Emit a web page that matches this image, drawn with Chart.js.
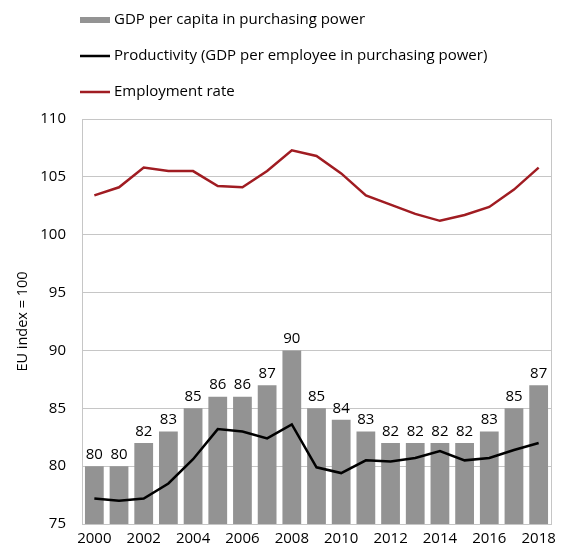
<!DOCTYPE html>
<html>
<head>
<meta charset="utf-8">
<script src="https://cdn.jsdelivr.net/npm/chart.js@4"></script>
<style>
  html, body { margin: 0; padding: 0; background: #fff; }
  #wrap { width: 566px; height: 550px; }
</style>
</head>
<body>
<div id="wrap"><canvas id="myChart" width="566" height="550"></canvas></div>
<script>
const years = ['2000', '2001', '2002', '2003', '2004', '2005', '2006', '2007', '2008', '2009',
    '2010', '2011', '2012', '2013', '2014', '2015', '2016', '2017', '2018'];
const gdpPerCapita = [80, 80, 82, 83, 85, 86, 86, 87, 90, 85, 84, 83, 82, 82, 82, 82, 83, 85, 87];
const productivity = [77.2, 77.0, 77.2, 78.5, 80.6, 83.2, 83.0, 82.4, 83.6, 79.9,
    79.4, 80.5, 80.4, 80.7, 81.3, 80.5, 80.7, 81.4, 82.0];
const employmentRate = [103.4, 104.1, 105.8, 105.5, 105.5, 104.2, 104.1, 105.5, 107.3, 106.8,
    105.3, 103.4, 102.6, 101.8, 101.2, 101.7, 102.4, 103.9, 105.8];
const yTicks = [75, 80, 85, 90, 95, 100, 105, 110];

const fontFamily = '"Open Sans", "Noto Sans", sans-serif';
const gridColor = '#c6c6c6';

// value labels above the bars
const barLabels = {
    id: 'barLabels',
    afterDatasetsDraw(chart) {
        const ctx = chart.ctx;
        const meta = chart.getDatasetMeta(2);
        ctx.save();
        ctx.font = '15px ' + fontFamily;
        ctx.fillStyle = '#000';
        ctx.textAlign = 'center';
        ctx.textBaseline = 'bottom';
        meta.data.forEach(function (bar, i) {
            ctx.fillText(gdpPerCapita[i], bar.x, bar.y - 4);
        });
        ctx.restore();
    }
};

// right border of the plot area
const frame = {
    id: 'frame',
    beforeDatasetsDraw(chart) {
        const a = chart.chartArea;
        const ctx = chart.ctx;
        ctx.save();
        ctx.strokeStyle = gridColor;
        ctx.lineWidth = 1;
        ctx.beginPath();
        ctx.moveTo(Math.round(a.right) + 0.5, a.top);
        ctx.lineTo(Math.round(a.right) + 0.5, a.bottom);
        ctx.stroke();
        ctx.restore();
    }
};

// legend stacked in one column
const stackedLegend = {
    id: 'stackedLegend',
    afterDraw(chart) {
        const ctx = chart.ctx;
        const items = [
            { text: 'GDP per capita in purchasing power', color: '#939393', h: 6 },
            { text: 'Productivity (GDP per employee in purchasing power)', color: '#000000', h: 2.5 },
            { text: 'Employment rate', color: '#a01c22', h: 2.5 }
        ];
        const rows = [20, 56, 92];
        ctx.save();
        ctx.font = '15px ' + fontFamily;
        ctx.textBaseline = 'middle';
        items.forEach(function (it, i) {
            ctx.fillStyle = it.color;
            ctx.fillRect(80, rows[i] - it.h / 2, 30, it.h);
            ctx.fillStyle = '#000';
            ctx.fillText(it.text, 114, rows[i]);
        });
        ctx.restore();
    }
};

const ctx = document.getElementById('myChart');
const myChart = new Chart(ctx, {
    data: {
        labels: years,
        datasets: [{
            type: 'line',
            label: 'Employment rate',
            data: employmentRate,
            borderColor: '#a01c22',
            borderWidth: 2.5,
            pointRadius: 0,
            tension: 0
        }, {
            type: 'line',
            label: 'Productivity (GDP per employee in purchasing power)',
            data: productivity,
            borderColor: '#000000',
            borderWidth: 2.5,
            pointRadius: 0,
            tension: 0
        }, {
            type: 'bar',
            label: 'GDP per capita in purchasing power',
            data: gdpPerCapita,
            backgroundColor: '#939393',
            categoryPercentage: 1,
            barPercentage: 0.76
        }]
    },
    options: {
        responsive: false,
        animation: false,
        layout: {
            padding: { top: 119, right: 15, left: 0, bottom: 0 }
        },
        plugins: {
            legend: { display: false },
            tooltip: { enabled: false }
        },
        scales: {
            x: {
                grid: { display: false, drawTicks: false },
                border: { color: gridColor },
                ticks: {
                    autoSkip: false,
                    maxRotation: 0,
                    padding: 6,
                    color: '#000',
                    font: { size: 15, family: fontFamily },
                    callback: function (value, index) {
                        return index % 2 === 0 ? years[index] : '';
                    }
                },
                afterFit: function (scale) { scale.height = 26; }
            },
            y: {
                min: 75,
                max: 110,
                afterBuildTicks: function (scale) {
                    scale.ticks = yTicks.map(function (v) { return { value: v }; });
                },
                grid: { color: gridColor, drawTicks: false },
                border: { color: gridColor },
                ticks: {
                    padding: 16,
                    color: '#000',
                    font: { size: 15, family: fontFamily }
                },
                title: {
                    display: true,
                    text: 'EU index = 100',
                    color: '#000',
                    font: { size: 14.5, family: fontFamily },
                    padding: { top: 14, bottom: 0 }
                },
                afterFit: function (scale) { scale.width = 82; }
            }
        }
    },
    plugins: [barLabels, frame, stackedLegend]
});
</script>
</body>
</html>
